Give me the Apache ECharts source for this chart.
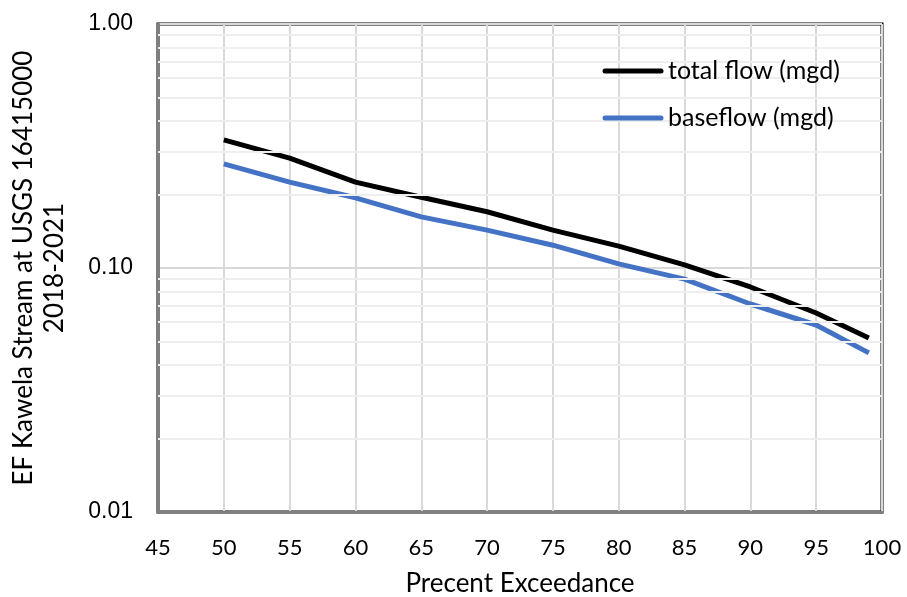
<!DOCTYPE html>
<html>
<head>
<meta charset="utf-8">
<script src="https://cdn.jsdelivr.net/npm/echarts@6/dist/echarts.min.js"></script>
<style>
  html, body { margin: 0; padding: 0; background: #fff; }
  #chart { width: 907px; height: 597px; }
</style>
</head>
<body>
<div id="chart"></div>
<script>
// Flow-duration values, EF Kawela Stream (USGS 16415000), 2018-2021
const exceedance = [50, 55, 60, 65, 70, 75, 80, 85, 90, 95, 99];
const totalFlow = [0.335, 0.282, 0.225, 0.195, 0.170, 0.143, 0.123, 0.103, 0.0836, 0.0654, 0.0517];
const baseflow  = [0.267, 0.225, 0.194, 0.162, 0.143, 0.124, 0.104, 0.090, 0.0712, 0.0584, 0.0449];
const seriesNames = ['total flow (mgd)', 'baseflow (mgd)'];
const seriesColors = ['#000000', '#4472C4'];
// intermediate log-scale gridlines
const minorGrid = [0.02, 0.03, 0.04, 0.05, 0.06, 0.07, 0.08, 0.09, 0.2, 0.3, 0.4, 0.5, 0.6, 0.7, 0.8, 0.9];

const pair = (xs, ys) => xs.map((x, i) => [x, ys[i]]);
const font = 'Lato, "Open Sans", sans-serif';

// legend key: a thick line sample followed by the series name
const legendLeft = 603, legendTop = 71, legendStep = 47;
const legendGraphics = [];
seriesNames.forEach((name, i) => {
  const y = legendTop + i * legendStep;
  legendGraphics.push({
    type: 'line', z: 10,
    shape: { x1: legendLeft + 2, y1: y, x2: legendLeft + 58, y2: y },
    style: { stroke: seriesColors[i], lineWidth: 5, lineCap: 'round' }
  });
  legendGraphics.push({
    type: 'text', z: 10, x: legendLeft + 65, y: y,
    style: { text: name, fill: '#000', font: '25px ' + font, verticalAlign: 'middle', align: 'left' }
  });
});

const chart = echarts.init(document.getElementById('chart'), null, { renderer: 'canvas' });
chart.setOption({
  animation: false,
  backgroundColor: '#fff',
  grid: {
    left: 158, top: 24, right: 25, bottom: 85,
    outerBoundsMode: 'none', containLabel: false,
    show: true, borderColor: '#000', borderWidth: 3
  },
  graphic: legendGraphics,
  xAxis: {
    type: 'value', min: 45, max: 100, interval: 5,
    name: 'Precent Exceedance', nameLocation: 'middle', nameGap: 59,
    nameTextStyle: { fontFamily: font, fontSize: 26, color: '#000' },
    axisLine: { show: true, lineStyle: { color: '#7f7f7f', width: 3 } },
    axisTick: { show: false },
    axisLabel: { fontFamily: font, fontSize: 22, color: '#000', margin: 25 },
    splitLine: { show: true, lineStyle: { color: '#d9d9d9', width: 2 } }
  },
  yAxis: {
    type: 'log', logBase: 10, min: 0.01, max: 1,
    name: 'EF Kawela Stream at USGS 16415000\n2018-2021',
    nameLocation: 'middle', nameGap: 88,
    nameTextStyle: { fontFamily: font, fontSize: 26, color: '#000', lineHeight: 31 },
    axisLine: { show: true, lineStyle: { color: '#7f7f7f', width: 3 } },
    axisTick: { show: false },
    axisLabel: {
      fontFamily: '"Liberation Sans", Arial, sans-serif', fontSize: 23, color: '#000', margin: 25,
      formatter: v => v.toFixed(2)
    },
    splitLine: { show: true, lineStyle: { color: '#d9d9d9', width: 2 } }
  },
  series: [
    {
      name: 'minor-grid', type: 'line', data: [], silent: true, z: 1,
      markLine: {
        silent: true, symbol: 'none', label: { show: false },
        lineStyle: { color: '#eeeeee', width: 2, type: 'solid' },
        data: minorGrid.map(v => ({ yAxis: v }))
      }
    },
    {
      name: seriesNames[0], type: 'line', data: pair(exceedance, totalFlow),
      showSymbol: false, symbol: 'none', z: 3,
      lineStyle: { color: seriesColors[0], width: 5 }, itemStyle: { color: seriesColors[0] }
    },
    {
      name: seriesNames[1], type: 'line', data: pair(exceedance, baseflow),
      showSymbol: false, symbol: 'none', z: 3,
      lineStyle: { color: seriesColors[1], width: 5 }, itemStyle: { color: seriesColors[1] }
    }
  ]
});
</script>
</body>
</html>
